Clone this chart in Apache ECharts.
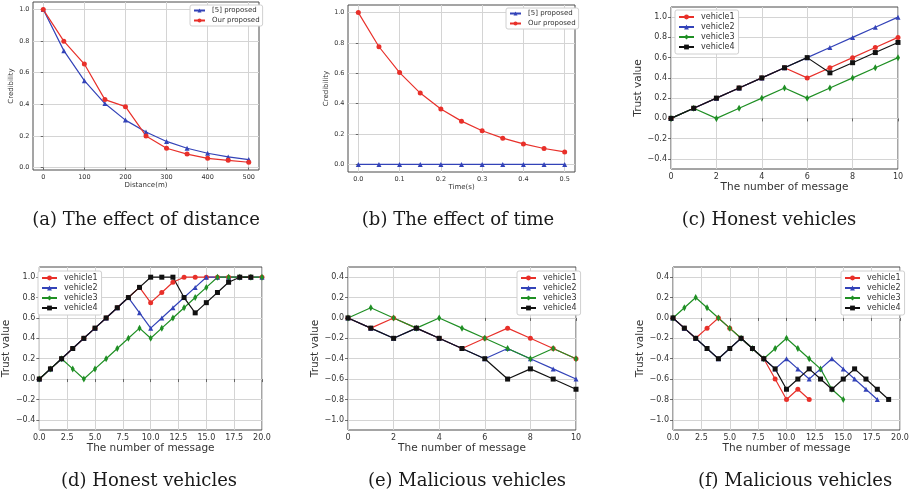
<!DOCTYPE html>
<html>
<head>
<meta charset="utf-8">
<script src="https://cdn.jsdelivr.net/npm/echarts@6/dist/echarts.min.js"></script>
<style>
  html, body { margin: 0; padding: 0; background: #fff; }
  #chart { width: 914px; height: 495px; }
</style>
</head>
<body>
<div id="chart"></div>
<script>
// ---- (a) credibility versus distance ----
const distance = [0, 50, 100, 150, 200, 250, 300, 350, 400, 450, 500];
const distRef5 = [1.0, 0.74, 0.55, 0.405, 0.30, 0.225, 0.165, 0.122, 0.09, 0.067, 0.05];
const distOurs = [1.0, 0.80, 0.655, 0.43, 0.385, 0.20, 0.122, 0.085, 0.058, 0.045, 0.033];

// ---- (b) credibility versus time ----
const time = [0, 0.05, 0.1, 0.15, 0.2, 0.25, 0.3, 0.35, 0.4, 0.45, 0.5];
const timeRef5 = [0, 0, 0, 0, 0, 0, 0, 0, 0, 0, 0];
const timeOurs = [1.0, 0.775, 0.605, 0.47, 0.365, 0.285, 0.222, 0.173, 0.135, 0.105, 0.082];

// ---- (c) honest vehicles, 10 messages ----
const msgC = [0, 1, 2, 3, 4, 5, 6, 7, 8, 9, 10];
const honestC1 = [0, 0.1, 0.2, 0.3, 0.4, 0.5, 0.4, 0.5, 0.6, 0.7, 0.8];
const honestC2 = [0, 0.1, 0.2, 0.3, 0.4, 0.5, 0.6, 0.7, 0.8, 0.9, 1.0];
const honestC3 = [0, 0.1, 0.0, 0.1, 0.2, 0.3, 0.2, 0.3, 0.4, 0.5, 0.6];
const honestC4 = [0, 0.1, 0.2, 0.3, 0.4, 0.5, 0.6, 0.45, 0.55, 0.65, 0.75];

// ---- (d) honest vehicles, 20 messages ----
const msgD = [0, 1, 2, 3, 4, 5, 6, 7, 8, 9, 10, 11, 12, 13, 14, 15, 16, 17, 18, 19, 20];
const honestD1 = [0, 0.1, 0.2, 0.3, 0.4, 0.5, 0.6, 0.7, 0.8, 0.9, 0.75, 0.85, 0.95, 1.0, 1.0, 1.0, 1.0, 1.0, 1.0, 1.0, 1.0];
const honestD2 = [0, 0.1, 0.2, 0.3, 0.4, 0.5, 0.6, 0.7, 0.8, 0.65, 0.5, 0.6, 0.7, 0.8, 0.9, 1.0, 1.0, 1.0, 1.0, 1.0, 1.0];
const honestD3 = [0, 0.1, 0.2, 0.1, 0.0, 0.1, 0.2, 0.3, 0.4, 0.5, 0.4, 0.5, 0.6, 0.7, 0.8, 0.9, 1.0, 1.0, 1.0, 1.0, 1.0];
const honestD4 = [0, 0.1, 0.2, 0.3, 0.4, 0.5, 0.6, 0.7, 0.8, 0.9, 1.0, 1.0, 1.0, 0.8, 0.65, 0.75, 0.85, 0.95, 1.0, 1.0];

// ---- (e) malicious vehicles, 10 messages ----
const msgE = [0, 1, 2, 3, 4, 5, 6, 7, 8, 9, 10];
const malE1 = [0, -0.1, 0.0, -0.1, -0.2, -0.3, -0.2, -0.1, -0.2, -0.3, -0.4];
const malE2 = [0, -0.1, -0.2, -0.1, -0.2, -0.3, -0.4, -0.3, -0.4, -0.5, -0.6];
const malE3 = [0, 0.1, 0.0, -0.1, 0.0, -0.1, -0.2, -0.3, -0.4, -0.3, -0.4];
const malE4 = [0, -0.1, -0.2, -0.1, -0.2, -0.3, -0.4, -0.6, -0.5, -0.6, -0.7];

// ---- (f) malicious vehicles, 20 messages ----
const msgF = [0, 1, 2, 3, 4, 5, 6, 7, 8, 9, 10, 11, 12, 13, 14, 15, 16, 17, 18, 19];
const malF1 = [0, -0.1, -0.2, -0.1, 0.0, -0.1, -0.2, -0.3, -0.4, -0.6, -0.8, -0.7, -0.8];
const malF2 = [0, -0.1, -0.2, -0.3, -0.4, -0.3, -0.2, -0.3, -0.4, -0.5, -0.4, -0.5, -0.6, -0.5, -0.4, -0.5, -0.6, -0.7, -0.8];
const malF3 = [0, 0.1, 0.2, 0.1, 0.0, -0.1, -0.2, -0.3, -0.4, -0.3, -0.2, -0.3, -0.4, -0.5, -0.7, -0.8];
const malF4 = [0, -0.1, -0.2, -0.3, -0.4, -0.3, -0.2, -0.3, -0.4, -0.5, -0.7, -0.6, -0.5, -0.6, -0.7, -0.6, -0.5, -0.6, -0.7, -0.8];

// ---- tick values ----
const distTicks = [0, 100, 200, 300, 400, 500];
const timeTicks = [0, 0.1, 0.2, 0.3, 0.4, 0.5];
const credTicks = [0, 0.2, 0.4, 0.6, 0.8, 1.0];
const msgTicks10 = [0, 2, 4, 6, 8, 10];
const msgTicks20 = [0, 2.5, 5, 7.5, 10, 12.5, 15, 17.5, 20];
const trustTicksHonest = [-0.4, -0.2, 0, 0.2, 0.4, 0.6, 0.8, 1.0];
const trustTicksMal = [-1.0, -0.8, -0.6, -0.4, -0.2, 0, 0.2, 0.4];

// ---- captions ----
const captions = [
  '(a) The effect of distance', '(b) The effect of time', '(c) Honest vehicles',
  '(d) Honest vehicles', '(e) Malicious vehicles', '(f) Malicious vehicles'
];
const vehicleNames = ['vehicle1', 'vehicle2', 'vehicle3', 'vehicle4'];
const schemeNames = ['[5] proposed', 'Our proposed'];

const RED = '#e8302a', BLUE = '#3343b8', GREEN = '#1f8f24', BLACK = '#111111';
const FRAME = '#4a4a4a', GRIDC = '#d4d4d4', TXT = '#333333';
const SANS = 'DejaVu Sans';

const minus = s => s.replace('-', '\u2212');
const fmt1 = v => minus(Number(v).toFixed(1));
const fmt0 = v => minus(String(Math.round(v)));

const pairs = (xs, ys) => ys.map((y, i) => [xs[i], y]);

// plot rectangles for the six panels
const panels = [
  { left: 33,  top: 2,   width: 226, height: 168, xmin: -25,    xmax: 525,   ymin: -0.016, ymax: 1.048,
    xt: distTicks, yt: credTicks, xf: fmt0, yf: fmt1, small: true, xname: 'Distance(m)', yname: 'Credibility' },
  { left: 348, top: 5,   width: 227, height: 167, xmin: -0.025, xmax: 0.525, ymin: -0.05, ymax: 1.05,
    xt: timeTicks, yt: credTicks, xf: fmt1, yf: fmt1, small: true, xname: 'Time(s)', yname: 'Credibility' },
  { left: 671, top: 7,   width: 227, height: 162, xmin: 0, xmax: 10, ymin: -0.5, ymax: 1.1,
    xt: msgTicks10, yt: trustTicksHonest, xf: fmt0, yf: fmt1, small: false, xname: 'The number of message', yname: 'Trust value' },
  { left: 34,  top: 267, width: 228, height: 163, xmin: 0, xmax: 20, ymin: -0.5, ymax: 1.1,
    xt: msgTicks20, yt: trustTicksHonest, xf: fmt1, yf: fmt1, small: false, xname: 'The number of message', yname: 'Trust value' },
  { left: 348, top: 267, width: 228, height: 163, xmin: 0, xmax: 10, ymin: -1.1, ymax: 0.5,
    xt: msgTicks10, yt: trustTicksMal, xf: fmt0, yf: fmt1, small: false, xname: 'The number of message', yname: 'Trust value' },
  { left: 673, top: 267, width: 227, height: 163, xmin: 0, xmax: 20, ymin: -1.1, ymax: 0.5,
    xt: msgTicks20, yt: trustTicksMal, xf: fmt1, yf: fmt1, small: false, xname: 'The number of message', yname: 'Trust value' }
];

const grid = panels.map(p => ({
  left: p.left, top: p.top, width: p.width, height: p.height,
  show: true, borderColor: FRAME, borderWidth: 1, backgroundColor: 'transparent', containLabel: false
}));

const xAxis = panels.map((p, i) => ({
  type: 'value', gridIndex: i, min: p.xmin, max: p.xmax,
  name: p.xname, nameLocation: 'middle', nameGap: p.small ? 10 : 12,
  nameTextStyle: { fontFamily: SANS, fontSize: p.small ? 7 : 10.5, color: TXT },
  axisLine: { show: false },
  axisTick: { show: true, inside: false, length: p.small ? 2.5 : 3, customValues: p.xt, lineStyle: { color: FRAME, width: 0.8 } },
  axisLabel: { customValues: p.xt, formatter: p.xf, fontFamily: SANS, fontSize: p.small ? 6.5 : 8, color: TXT, margin: p.small ? 3.5 : 4 },
  splitLine: { show: true, lineStyle: { color: GRIDC, width: 1 } }
}));

const yAxis = panels.map((p, i) => ({
  type: 'value', gridIndex: i, min: p.ymin, max: p.ymax,
  name: p.yname, nameLocation: 'middle', nameGap: p.small ? 18 : 22, nameRotate: 90,
  nameTextStyle: { fontFamily: SANS, fontSize: p.small ? 7 : 10.5, color: TXT },
  axisLine: { show: false },
  axisTick: { show: true, inside: false, length: p.small ? 2.5 : 3, customValues: p.yt, lineStyle: { color: FRAME, width: 0.8 } },
  axisLabel: { customValues: p.yt, formatter: p.yf, fontFamily: SANS, fontSize: p.small ? 6.5 : 8, color: TXT, margin: p.small ? 3.5 : 4 },
  splitLine: { show: true, lineStyle: { color: GRIDC, width: 1 } }
}));

const styles = {
  red:   { color: RED,   symbol: 'circle',   size: 5 },
  blue:  { color: BLUE,  symbol: 'triangle', size: 5 },
  green: { color: GREEN, symbol: 'diamond',  size: [4, 7] },
  black: { color: BLACK, symbol: 'rect',     size: 5 }
};

function line(name, gi, xs, ys, st) {
  return {
    type: 'line', name, xAxisIndex: gi, yAxisIndex: gi,
    data: pairs(xs, ys), symbol: st.symbol, symbolSize: st.size, showSymbol: true,
    lineStyle: { color: st.color, width: 1.2 }, itemStyle: { color: st.color },
    animation: false, silent: true, clip: false
  };
}

const series = [
  line(schemeNames[0], 0, distance, distRef5, styles.blue),
  line(schemeNames[1], 0, distance, distOurs, styles.red),
  line(schemeNames[0], 1, time, timeRef5, styles.blue),
  line(schemeNames[1], 1, time, timeOurs, styles.red),
  line(vehicleNames[0], 2, msgC, honestC1, styles.red),
  line(vehicleNames[1], 2, msgC, honestC2, styles.blue),
  line(vehicleNames[2], 2, msgC, honestC3, styles.green),
  line(vehicleNames[3], 2, msgC, honestC4, styles.black),
  line(vehicleNames[0], 3, msgD, honestD1, styles.red),
  line(vehicleNames[1], 3, msgD, honestD2, styles.blue),
  line(vehicleNames[2], 3, msgD, honestD3, styles.green),
  line(vehicleNames[3], 3, msgD, honestD4, styles.black),
  line(vehicleNames[0], 4, msgE, malE1, styles.red),
  line(vehicleNames[1], 4, msgE, malE2, styles.blue),
  line(vehicleNames[2], 4, msgE, malE3, styles.green),
  line(vehicleNames[3], 4, msgE, malE4, styles.black),
  line(vehicleNames[0], 5, msgF, malF1, styles.red),
  line(vehicleNames[1], 5, msgF, malF2, styles.blue),
  line(vehicleNames[2], 5, msgF, malF3, styles.green),
  line(vehicleNames[3], 5, msgF, malF4, styles.black)
];

function legendAt(left, top, names, small) {
  return {
    left, top, orient: 'vertical', data: names,
    itemWidth: small ? 11 : 15, itemHeight: small ? 5 : 6, itemGap: small ? 3 : 2,
    padding: small ? [2, 3, 2, 3] : [3, 4, 3, 3],
    backgroundColor: '#ffffff', borderColor: '#d0d0d0', borderWidth: 1, borderRadius: 2,
    textStyle: { fontFamily: SANS, fontSize: small ? 7 : 8, color: TXT, padding: [0, 0, 0, 2] },
    selectedMode: false
  };
}

const legend = [
  legendAt(190, 5, schemeNames, true),
  legendAt(506, 8, schemeNames, true),
  legendAt(675, 10, vehicleNames, false),
  legendAt(38, 271, vehicleNames, false),
  legendAt(517, 271, vehicleNames, false),
  legendAt(841, 271, vehicleNames, false)
];

const capPos = [[141, 217], [453, 217], [764, 217], [144, 478], [462, 478], [790, 478]];
const title = captions.map((c, i) => ({
  text: c, left: capPos[i][0], top: capPos[i][1] - 11, textAlign: 'center',
  textStyle: { fontFamily: 'DejaVu Serif', fontSize: 18, fontWeight: 'normal', color: '#1a1a1a' }
}));

const chart = echarts.init(document.getElementById('chart'), null, { renderer: 'canvas' });
chart.setOption({
  backgroundColor: '#ffffff',
  animation: false,
  title, grid, xAxis, yAxis, legend, series
});
</script>
</body>
</html>
